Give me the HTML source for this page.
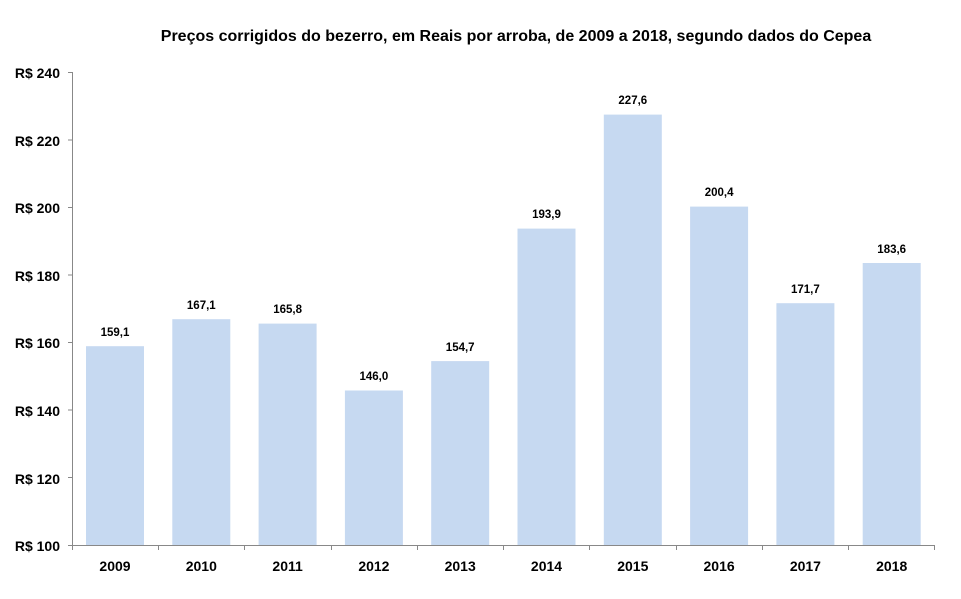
<!DOCTYPE html>
<html><head><meta charset="utf-8"><style>
body{margin:0;background:#fff}
svg text{font-family:"Liberation Sans",sans-serif;font-weight:bold;fill:#000}
</style></head><body>
<svg width="961" height="594" xmlns="http://www.w3.org/2000/svg">
<text x="516" y="41" text-anchor="middle" font-size="16">Preços corrigidos do bezerro, em Reais por arroba, de 2009 a 2018, segundo dados do Cepea</text>
<g font-size="14" text-anchor="end">
<text x="60" y="78">R$ 240</text>
<text x="60" y="146">R$ 220</text>
<text x="60" y="213">R$ 200</text>
<text x="60" y="281">R$ 180</text>
<text x="60" y="348">R$ 160</text>
<text x="60" y="416">R$ 140</text>
<text x="60" y="484">R$ 120</text>
<text x="60" y="551">R$ 100</text>
</g>
<g fill="#c6d9f1">
<rect x="86" y="346.2" width="58" height="198.8"/>
<rect x="172.3" y="319.2" width="58" height="225.8"/>
<rect x="258.6" y="323.6" width="58" height="221.4"/>
<rect x="344.9" y="390.5" width="58" height="154.5"/>
<rect x="431.2" y="361.1" width="58" height="183.9"/>
<rect x="517.5" y="228.6" width="58" height="316.4"/>
<rect x="603.8" y="114.6" width="58" height="430.4"/>
<rect x="690.1" y="206.6" width="58" height="338.4"/>
<rect x="776.4" y="303.2" width="58" height="241.8"/>
<rect x="862.7" y="263.0" width="58" height="282"/>
</g>
<g stroke="#888" stroke-width="1" fill="none">
<path d="M72.5 72V545.5H935"/>
<path d="M68 72.5h4.5M68 140h4.5M68 207.5h4.5M68 275h4.5M68 342.5h4.5M68 410h4.5M68 477.5h4.5M68 545.5h4.5"/>
<path d="M72.5 545v5M158.5 545v5M244.5 545v5M331.5 545v5M417.5 545v5M503.5 545v5M589.5 545v5M676.5 545v5M762.5 545v5M848.5 545v5M934.5 545v5"/>
</g>
<g font-size="11.5" text-anchor="middle">
<text x="115" y="336">159,1</text>
<text x="201.3" y="309">167,1</text>
<text x="287.6" y="313">165,8</text>
<text x="373.9" y="380">146,0</text>
<text x="460.2" y="351">154,7</text>
<text x="546.5" y="218">193,9</text>
<text x="632.8" y="104">227,6</text>
<text x="719.1" y="196">200,4</text>
<text x="805.4" y="293">171,7</text>
<text x="891.7" y="253">183,6</text>
</g>
<g font-size="14" text-anchor="middle">
<text x="115" y="571">2009</text>
<text x="201.3" y="571">2010</text>
<text x="287.6" y="571">2011</text>
<text x="373.9" y="571">2012</text>
<text x="460.2" y="571">2013</text>
<text x="546.5" y="571">2014</text>
<text x="632.8" y="571">2015</text>
<text x="719.1" y="571">2016</text>
<text x="805.4" y="571">2017</text>
<text x="891.7" y="571">2018</text>
</g>
</svg>
</body></html>
